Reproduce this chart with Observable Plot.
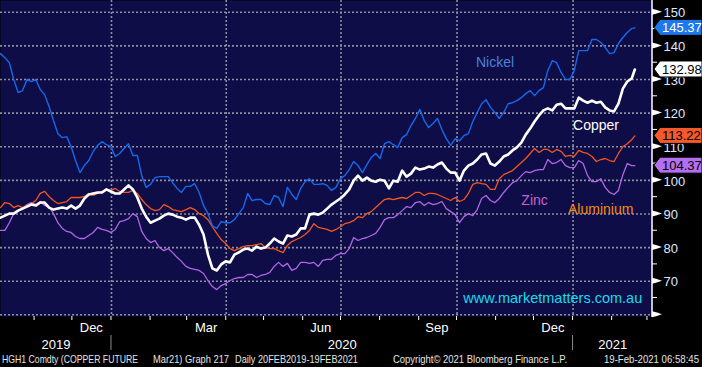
<!DOCTYPE html>
<html><head><meta charset="utf-8">
<script src="https://cdn.jsdelivr.net/npm/d3@7"></script>
<script src="https://cdn.jsdelivr.net/npm/@observablehq/plot@0.6"></script>
<style>
html,body{margin:0;padding:0;background:#000;}
#chart{width:702px;height:367px;position:relative;overflow:hidden;background:#000;}
#chart svg{display:block;}
#footer{position:absolute;left:0;top:351px;width:702px;height:16px;font:10.5px "Liberation Sans",Arial,sans-serif;color:#e4e4e4;}
#footer span{position:absolute;top:2px;white-space:nowrap;transform-origin:0 50%;}
</style></head><body><div id="chart"></div>
<script>
// ---- data: readings every half week from 5 Oct 2019, last point 19 Feb 2021 ----
const startDate = "2019-10-05";
const stepHours = 84;           // half a week
const lastDate = "2021-02-19";
const domainEnd = "2021-03-05";

const nickel = [137.7,136.5,135.0,130.0,126.1,126.7,130.0,129.4,130.0,127.0,125.5,122.0,117.8,113.9,112.7,113.0,110.0,105.9,102.3,104.4,105.9,108.6,110.4,111.5,110.6,110.0,107.1,108.0,109.5,110.9,107.4,107.4,101.4,97.9,98.8,100.8,101.1,101.1,101.1,99.3,97.6,96.4,98.2,98.2,99.0,96.4,92.5,90.1,86.5,85.7,87.7,87.4,87.4,88.3,90.1,91.9,96.1,94.0,94.3,94.3,93.1,92.8,95.5,94.9,92.2,97.9,95.8,94.3,97.6,99.6,100.5,98.8,98.8,99.0,98.5,97.0,97.9,100.5,101.4,103.2,105.6,104.4,102.3,104.7,106.8,108.0,106.5,110.9,111.5,110.6,109.8,112.7,113.6,116.3,118.4,121.1,117.8,115.7,116.9,118.4,115.1,112.4,110.4,112.4,111.8,113.3,113.9,117.5,120.2,122.8,124.0,121.7,120.2,118.4,120.2,122.8,123.1,123.7,124.6,125.8,126.7,125.2,126.7,127.6,132.7,135.6,135.0,132.1,130.0,130.0,132.7,138.6,138.6,138.6,141.9,141.9,141.0,139.5,137.7,138.0,140.7,142.5,144.0,145.2,145.37];
const copper = [88.9,89.5,90.1,90.1,91.0,91.6,92.2,92.8,92.5,93.4,93.4,91.9,91.3,91.6,91.9,91.6,92.5,91.6,92.5,94.6,95.8,96.1,96.4,96.4,97.3,96.7,96.1,96.1,97.3,98.5,97.3,94.9,91.6,89.2,87.4,88.0,88.6,89.5,90.1,89.8,89.2,88.9,88.3,88.9,88.9,86.8,83.9,77.9,73.8,73.2,75.0,75.9,75.6,77.9,78.6,79.4,79.7,79.1,80.3,79.7,80.0,81.2,82.7,81.8,81.2,83.6,83.3,83.9,85.7,85.7,89.8,90.1,89.8,90.4,91.6,92.8,93.7,94.6,95.8,97.3,99.9,101.4,99.9,100.8,99.9,99.6,100.2,99.9,97.6,99.9,99.6,102.9,101.1,102.0,103.8,103.2,103.5,104.1,103.8,104.7,105.3,103.5,102.3,102.3,99.9,102.9,104.4,105.0,106.2,107.7,108.0,105.0,104.4,105.6,107.1,107.7,108.9,109.8,111.2,113.6,115.4,117.5,119.3,120.8,121.4,120.8,122.5,122.8,121.4,121.4,121.4,124.6,123.7,123.1,123.7,123.1,123.4,121.7,120.8,120.5,122.8,127.3,129.4,130.3,132.98];
const aluminium = [91.9,93.4,93.1,91.9,92.5,91.9,92.5,93.1,94.0,96.1,96.7,95.2,94.0,93.1,93.4,93.7,94.9,94.9,94.9,95.2,96.1,95.5,96.1,96.7,97.3,97.0,97.6,96.7,96.4,96.4,97.0,96.1,94.3,92.8,91.6,91.0,91.3,92.8,92.2,91.3,91.0,90.7,91.3,91.9,91.3,90.1,89.5,88.3,86.2,84.2,82.4,81.2,79.7,79.1,79.7,80.3,80.6,80.6,80.9,81.2,80.0,79.7,79.7,79.1,78.5,80.6,81.8,82.4,83.0,83.9,85.1,87.1,86.0,85.7,85.4,84.8,85.4,86.2,87.1,87.4,88.0,89.2,88.9,90.1,90.7,91.9,93.1,94.3,94.6,94.3,94.6,94.9,94.6,95.5,96.4,96.4,95.5,96.1,96.1,95.8,95.2,94.6,94.0,94.9,93.7,94.3,96.1,98.8,99.3,99.0,98.8,97.3,97.3,100.5,101.7,102.3,102.9,104.1,105.3,106.5,108.0,109.5,108.3,109.2,109.2,108.3,109.2,108.6,107.1,107.4,107.1,108.9,108.3,108.0,107.1,105.6,106.2,106.5,105.9,105.6,108.0,110.0,110.9,112.1,113.22];
const zinc = [85.1,85.1,87.4,90.1,91.0,91.6,92.8,93.4,92.8,93.7,92.5,92.2,90.1,87.4,85.7,84.8,84.5,83.3,82.7,82.7,83.6,84.5,86.0,85.4,85.1,84.5,85.4,87.7,88.0,88.6,90.1,89.2,84.8,82.7,81.5,82.1,80.0,79.1,79.7,78.5,77.1,75.9,74.4,73.8,73.5,73.2,72.3,70.2,68.4,67.5,68.7,69.3,70.2,70.8,71.1,71.1,72.0,72.0,71.1,71.7,72.0,72.6,74.4,75.6,74.4,75.3,73.2,73.8,75.6,75.6,75.3,75.6,74.4,76.2,76.5,76.5,77.7,78.2,78.2,79.7,83.0,82.1,82.7,83.0,83.6,84.2,86.0,88.3,88.9,88.9,89.8,91.0,92.2,91.9,93.4,93.7,92.5,93.4,92.8,93.1,93.7,91.6,90.7,89.8,87.4,89.2,90.1,89.5,91.3,94.6,95.5,94.0,93.4,94.6,96.4,97.9,99.3,99.9,101.4,102.6,102.3,102.9,103.2,103.2,106.2,105.0,105.3,106.2,104.4,103.8,103.8,105.9,105.0,101.4,99.6,99.6,100.5,97.9,96.4,95.8,97.0,101.7,105.0,104.4,104.37];

const seriesNames = ["Zinc", "Aluminium", "Nickel", "Copper"];
const seriesColors = {Zinc: "#b065e4", Aluminium: "#f2551f", Nickel: "#1469ec", Copper: "#ffffff"};
const seriesWidths = {Zinc: 1.3, Aluminium: 1.3, Nickel: 1.4, Copper: 2.6};
const tagText = {Zinc: "#000", Aluminium: "#000", Nickel: "#fff", Copper: "#000"};
const tagFill = {Zinc: "#b46ef0", Aluminium: "#f5582a", Nickel: "#1c78ec", Copper: "#ffffff"};

const yTicks = [60, 70, 80, 90, 100, 110, 120, 130, 140, 150];
const yLabels = [70, 80, 90, 100, 110, 120, 130, 140, 150];
const yMinor = [65, 75, 85, 95, 105, 115, 125, 135, 145];
const gridDates = ["2020-01-01", "2020-04-01", "2020-07-01", "2020-10-01", "2021-01-01"];
const monthStarts = ["2019-11-01","2019-12-01","2020-01-01","2020-02-01","2020-03-01","2020-04-01","2020-05-01","2020-06-01","2020-07-01","2020-08-01","2020-09-01","2020-10-01","2020-11-01","2020-12-01","2021-01-01","2021-02-01","2021-03-01"];
const monthLabels = [["2019-12-16","Dec"],["2020-03-16","Mar"],["2020-06-15","Jun"],["2020-09-15","Sep"],["2020-12-16","Dec"]];
const yearBreaks = ["2020-01-01", "2021-01-01"];
const yearNames = ["2019", "2020", "2021"];
const seriesLabels = [
  {name: "Nickel", date: "2020-10-16", value: 135.0, color: "#4a82d8"},
  {name: "Copper", date: "2021-01-01", value: 116.3, color: "#ffffff"},
  {name: "Zinc", date: "2020-11-21", value: 94.0, color: "#c565c8"},
  {name: "Aluminium", date: "2020-12-28", value: 91.3, color: "#f28c14"}
];
const watermark = {text: "www.marketmatters.com.au", date: "2020-10-06", value: 64.8, color: "#14dcec"};
// [left, right, text]
const footer = [
  [2, 138, "HGH1 Comdty (COPPER FUTURE"],
  [153, 229, "Mar21) Graph 217"],
  [235, 358, "Daily 20FEB2019-19FEB2021"],
  [393, 567, "Copyright\u00a9 2021 Bloomberg Finance L.P."],
  [604, 699, "19-Feb-2021 06:58:45"]
];

// ---- build table ----
const D = s => new Date(s + "T00:00:00Z");
const seriesValues = {Nickel: nickel, Copper: copper, Aluminium: aluminium, Zinc: zinc};
const n = nickel.length;
for (const k in seriesValues) if (seriesValues[k].length !== n) throw new Error(k + " length " + seriesValues[k].length + " vs " + n);
const dates = d3.range(n - 1).map(i => d3.utcHour.offset(D(startDate), stepHours * i)).concat([D(lastDate)]);
const rows = seriesNames.flatMap(name => seriesValues[name].map((v, i) => ({series: name, date: dates[i], value: v})));
const tags = ["Nickel", "Copper", "Aluminium", "Zinc"].map(nm => ({name: nm, value: seriesValues[nm][seriesValues[nm].length - 1]}));

const FONT = '"Liberation Sans", Arial, sans-serif';
const navy = "#0f0d47";
const gridStyle = {stroke: "#8e8e9e", strokeWidth: 1.6, strokeDasharray: "2,2"};

const yearSpans = [[D(startDate), D(yearBreaks[0])], [D(yearBreaks[0]), D(yearBreaks[1])], [D(yearBreaks[1]), D(domainEnd)]];
const yearLabelData = yearSpans.map(([a, b], i) => ({date: new Date((+a + +b) / 2), text: yearNames[i]}));

function decor(index, scales, values, dims) {
  const {x, y} = scales;
  const g = d3.create("svg:g").attr("text-anchor", "start");
  const xr = dims.width - dims.marginRight;
  const yb = dims.height - dims.marginBottom;
  g.append("line").attr("x1", xr).attr("x2", xr).attr("y1", 0).attr("y2", yb + 1)
    .attr("stroke", "#fff").attr("stroke-width", 1.5);
  for (const v of yMinor) {
    g.append("line").attr("x1", xr).attr("x2", xr + 5).attr("y1", y(v)).attr("y2", y(v))
      .attr("stroke", "#fff").attr("stroke-width", 1);
  }
  for (const v of yTicks) {
    const cy = y(v);
    g.append("path").attr("d", `M${xr},${cy - 3}L${xr + 4},${cy - 2}L${xr + 10},${cy}L${xr + 4},${cy + 2}L${xr},${cy + 3}Z`).attr("fill", "#fff");
  }
  for (const s of monthStarts) {
    const px = x(D(s));
    g.append("line").attr("x1", px).attr("x2", px).attr("y1", yb).attr("y2", yb + 4)
      .attr("stroke", "#fff").attr("stroke-width", 1);
  }
  for (const s of yearBreaks) {
    const px = x(D(s));
    g.append("line").attr("x1", px).attr("x2", px).attr("y1", yb + 19).attr("y2", yb + 34)
      .attr("stroke", "#8a8a8a").attr("stroke-width", 1);
  }
  const W = dims.width;
  for (const t of tags) {
    const cy = y(t.value);
    g.append("path")
      .attr("d", `M${xr + 2},${cy}L${xr + 8},${cy - 8}L${W},${cy - 8}L${W},${cy + 8}L${xr + 8},${cy + 8}Z`)
      .attr("fill", tagFill[t.name]).attr("stroke", "#000").attr("stroke-width", 1);
    g.append("text").attr("x", xr + 10).attr("y", cy).attr("dy", "0.36em")
      .attr("text-anchor", "start")
      .attr("fill", tagText[t.name]).attr("font-size", 13).attr("font-family", FONT)
      .text(t.value.toFixed(2));
  }
  return g.node();
}

const plot = Plot.plot({
  width: 702,
  height: 351,
  marginTop: 0,
  marginLeft: 0,
  marginRight: 50,
  marginBottom: 35,
  style: {background: "#000", color: "#fff", fontFamily: FONT},
  x: {type: "utc", domain: [D(startDate), D(domainEnd)], axis: null},
  y: {domain: [59.5, 153.5], axis: null},
  marks: [
    Plot.frame({fill: navy, stroke: "none"}),
    Plot.ruleY(yTicks, {y: d => d, ...gridStyle}),
    Plot.ruleX(gridDates, {x: d => D(d), ...gridStyle}),
    ...seriesNames.map(name => Plot.line(rows.filter(r => r.series === name), {
      x: "date", y: "value", stroke: seriesColors[name], strokeWidth: seriesWidths[name], strokeLinejoin: "round"
    })),
    Plot.text(seriesLabels, {x: d => D(d.date), y: "value", text: "name", fill: d => d.color, textAnchor: "start", fontSize: 14}),
    Plot.text([watermark], {x: d => D(d.date), y: "value", text: "text", fill: d => d.color, textAnchor: "start", fontSize: 14.5}),
    Plot.text(yLabels, {x: () => D(domainEnd), y: d => d, text: d => String(d), textAnchor: "start", dx: 11, dy: 1, fill: "#dfe7ff", fontSize: 13}),
    Plot.text(monthLabels, {x: d => D(d[0]), text: d => d[1], frameAnchor: "bottom", lineAnchor: "bottom", dy: 15.5, fill: "#fff", fontSize: 13}),
    Plot.text(yearLabelData, {x: "date", text: "text", frameAnchor: "bottom", lineAnchor: "bottom", dy: 32, fill: "#fff", fontSize: 13}),
    decor
  ]
});

const chart = document.getElementById("chart");
chart.appendChild(plot);
const foot = document.createElement("div");
foot.id = "footer";
chart.appendChild(foot);
for (const [left, right, text] of footer) {
  const s = document.createElement("span");
  s.style.left = left + "px";
  s.textContent = text;
  foot.appendChild(s);
  const w = s.getBoundingClientRect().width;
  if (w > 0) s.style.transform = `scaleX(${((right - left) / w).toFixed(3)})`;
}
</script></body></html>
